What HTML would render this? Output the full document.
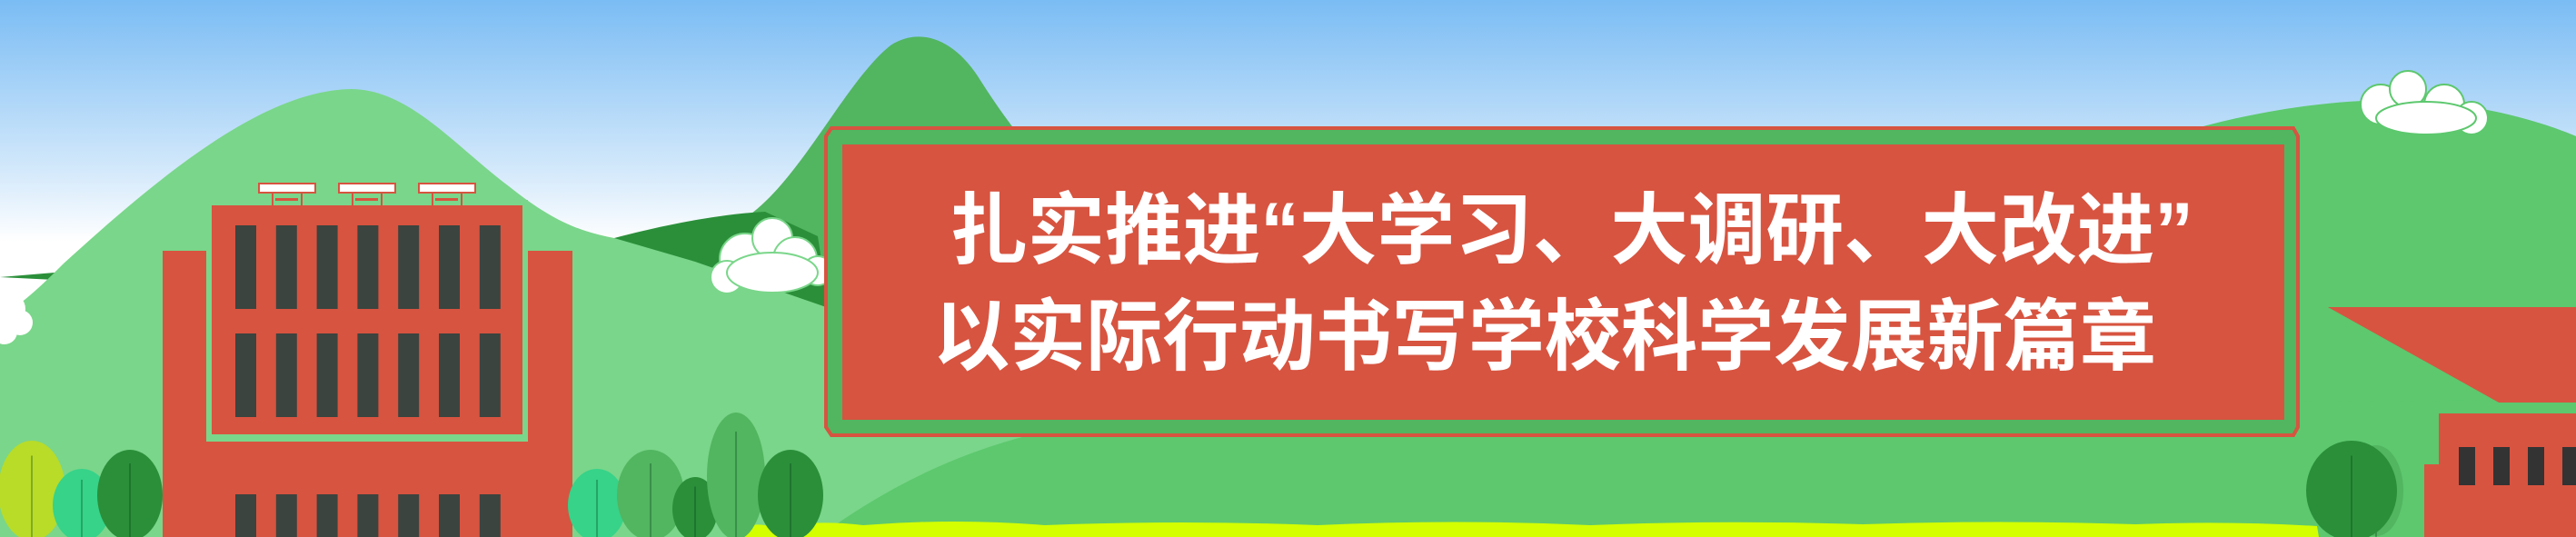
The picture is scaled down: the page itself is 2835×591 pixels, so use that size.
<!DOCTYPE html>
<html><head><meta charset="utf-8"><style>
html,body{margin:0;padding:0;width:2835px;height:591px;overflow:hidden}
svg{display:block}
</style></head><body>
<svg width="2835" height="591" viewBox="0 0 2835 591" xmlns="http://www.w3.org/2000/svg">
<defs>
<linearGradient id="sky" x1="0" y1="0" x2="0" y2="1">
<stop offset="0" stop-color="#7abcf4"/><stop offset="0.32" stop-color="#d4e9fb"/><stop offset="0.45" stop-color="#ffffff"/><stop offset="1" stop-color="#ffffff"/>
</linearGradient>
</defs>
<rect width="2835" height="591" fill="url(#sky)"/>
<path d="M2300,180 C2450,120 2600,100 2700,115 C2780,125 2835,150 2835,150 L2835,591 L2000,591 Z" fill="#5dc86e"/>
<path d="M820,240 C880,200 930,90 980,50 C1010,30 1050,40 1080,90 C1150,200 1250,300 1400,350 L1400,591 L820,591 Z" fill="#52b560"/>
<path d="M0,305 L60,300 L300,300 L676,262 C740,245 800,235 842,233 L900,260 L912,340 L700,340 Z" fill="#2b8f3a"/>
<path d="M0,350 C30,330 50,310 70,290 C180,190 290,100 386,98 C450,98 500,160 560,205 C610,245 640,255 676,262 L765,288 L912,339 C1000,380 1150,450 1300,591 L0,591 Z" fill="#7ad68a"/>
<path d="M900,591 C1000,520 1100,470 1300,450 L2835,440 L2835,591 Z" fill="#5dc86e"/>
<path d="M810,591 L812,582 Q830,574 850,580 Q900,572 950,578 Q1050,570 1150,578 Q1300,572 1450,578 Q1600,571 1750,578 Q1900,572 2050,577 Q2200,572 2350,577 Q2450,573 2550,579 L2552,591 Z" fill="#d4ff00"/>
<g fill="#fff" stroke="#7ad68a" stroke-width="2">
<circle cx="820" cy="285" r="28"/><circle cx="850" cy="262" r="22"/><circle cx="875" cy="285" r="24"/><circle cx="800" cy="305" r="18"/><circle cx="900" cy="298" r="16"/><ellipse cx="850" cy="300" rx="50" ry="22"/>
</g>
<g fill="#fff"><circle cx="10" cy="340" r="18"/><circle cx="22" cy="355" r="14"/><circle cx="5" cy="365" r="14"/></g>
<g fill="#fff" stroke="#5dc86e" stroke-width="2">
<circle cx="2620" cy="115" r="22"/><circle cx="2650" cy="98" r="20"/><circle cx="2690" cy="115" r="22"/><circle cx="2720" cy="130" r="18"/><ellipse cx="2670" cy="130" rx="55" ry="18"/>
</g>
<g>
<rect x="179" y="276" width="451" height="315" fill="#d75440"/>
<rect x="227" y="220" width="354" height="266" fill="#7ad68a"/>
<rect x="233" y="226" width="342" height="252" fill="#d75440"/>
<g id="winrows"></g>
<g id="signs"></g>
</g>
<g>
<path d="M915,141 L2524,141 L2529,150 L2529,470 L2524,479 L915,479 L909,470 L909,150 Z" fill="#52b560" stroke="#d75440" stroke-width="4"/>
<rect x="927" y="159" width="1587" height="303" fill="#d75440"/>
<text x="1045" y="283" font-family="Liberation Sans, Noto Sans CJK SC, sans-serif" font-weight="bold" font-size="86" fill="#fff" textLength="1369" lengthAdjust="spacingAndGlyphs">扎实推进“大学习、大调研、大改进”</text>
<text x="1027" y="400" font-family="Liberation Sans, Noto Sans CJK SC, sans-serif" font-weight="bold" font-size="86" fill="#fff" textLength="1346" lengthAdjust="spacingAndGlyphs">以实际行动书写学校科学发展新篇章</text>
</g>
<g>
<polygon points="2562,338 2835,338 2835,443 2750,443" fill="#d75440"/>
<rect x="2668" y="511" width="167" height="80" fill="#d75440"/>
<rect x="2684" y="455" width="151" height="80" fill="#d75440"/>
<g id="rwin"></g>
</g>
<g id="trees"></g>
</svg>
<script>
var NS='http://www.w3.org/2000/svg';
function mk(t,a,p){var e=document.createElementNS(NS,t);for(var k in a)e.setAttribute(k,a[k]);p.appendChild(e);return e;}
var rows=document.getElementById('winrows');
[[248,92],[367,92],[544,60]].forEach(function(r){for(var i=0;i<7;i++){var w=mk('rect',{x:259+i*44.8,y:r[0],width:23,height:r[1],fill:'#3b443f'},rows);

}});
var sg=document.getElementById('signs');
for(var i=0;i<3;i++){var x=285+i*88;mk('rect',{x:x,y:202,width:62,height:10,fill:'#fff',stroke:'#d75440','stroke-width':2},sg);
mk('rect',{x:x+14,y:212,width:2,height:14,fill:'#d75440'},sg);mk('rect',{x:x+46,y:212,width:2,height:14,fill:'#d75440'},sg);mk('rect',{x:x+18,y:218,width:25,height:3,fill:'#d75440'},sg);}
var rw=document.getElementById('rwin');
for(var i=0;i<4;i++){var w=mk('rect',{x:2706+i*38,y:492,width:18,height:42,fill:'#333'},rw);

}
var tg=document.getElementById('trees');
[[35,540,37,55,'#b8dc28'],[90,556,32,40,'#36d389'],[143,545,36,50,'#2b8f3a'],[657,556,32,40,'#36d389'],[716,545,37,50,'#52b560'],[765,560,25,35,'#2b8f3a'],[810,524,32,70,'#52b560'],[870,545,36,50,'#2b8f3a'],[2615,540,30,50,'#52b560'],[2588,540,50,55,'#2b8f3a']].forEach(function(t){
var e=mk('ellipse',{cx:t[0],cy:t[1],rx:t[2],ry:t[3],fill:t[4]},tg);


mk('line',{x1:t[0],y1:t[1]-t[3]*0.7,x2:t[0],y2:591,stroke:'rgba(0,60,20,0.3)','stroke-width':2},tg);});
</script>
</body></html>
